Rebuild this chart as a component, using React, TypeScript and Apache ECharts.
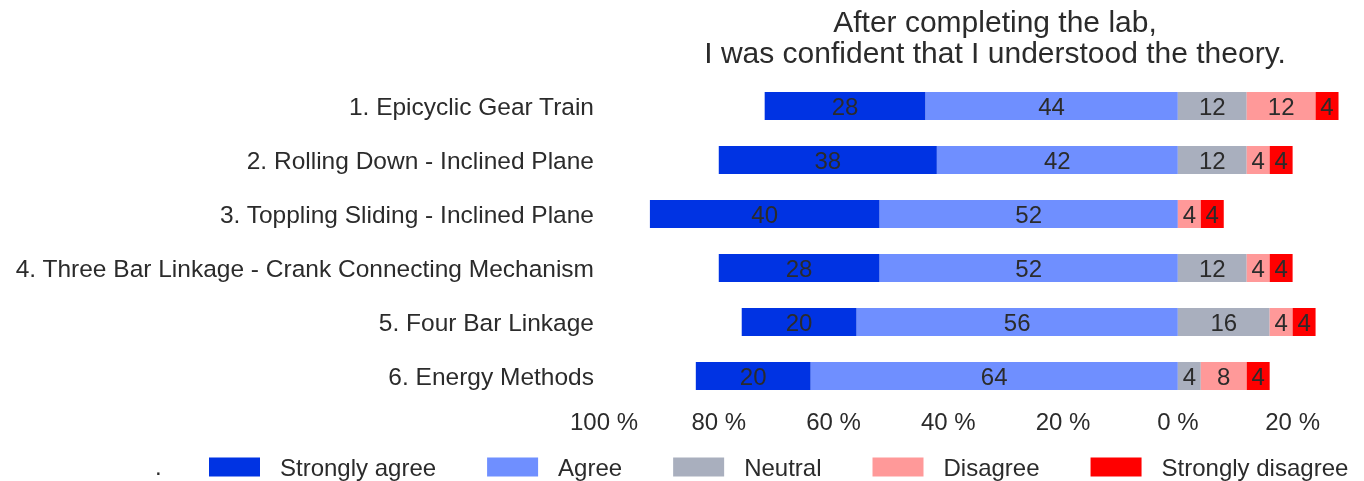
import React, { useEffect, useRef } from "react";
import * as echarts from "echarts";

const categories = [
  "1. Epicyclic Gear Train",
  "2. Rolling Down - Inclined Plane",
  "3. Toppling Sliding - Inclined Plane",
  "4. Three Bar Linkage - Crank Connecting Mechanism",
  "5. Four Bar Linkage",
  "6. Energy Methods",
];
const stronglyAgree = [28, 38, 40, 28, 20, 20];
const agree = [44, 42, 52, 52, 56, 64];
const neutral = [12, 12, 0, 12, 16, 4];
const disagree = [12, 4, 4, 4, 4, 8];
const stronglyDisagree = [4, 4, 4, 4, 4, 4];
const legendNames = ["Strongly agree", "Agree", "Neutral", "Disagree", "Strongly disagree"];
const colors = ["#0033E3", "#6F8FFF", "#A9AFBE", "#FF9999", "#FF0000"];

const FONT = "'Liberation Sans', Arial, sans-serif";
const TXT = "#2b2b2b";

export default function App() {
  const ref = useRef<HTMLDivElement>(null);
  useEffect(() => {
    if (!ref.current) return;
    const chart = echarts.init(ref.current, undefined, { renderer: "svg" });
    const label = {
      show: true,
      position: "inside",
      color: TXT,
      fontSize: 24,
      fontFamily: FONT,
      formatter: (p: any) => (p.value === 0 ? "" : String(Math.abs(p.value))),
    };
    const mk = (name: string, data: number[], color: string, neg: boolean) => ({
      name,
      type: "bar",
      stack: "total",
      barWidth: 28,
      data: neg ? data.map((v) => -v) : data,
      itemStyle: { color },
      label,
      emphasis: { disabled: true },
    });
    chart.setOption({
      animation: false,
      textStyle: { fontFamily: FONT },
      graphic: [
        {
          type: "text",
          x: 995,
          y: 6,
          style: {
            text: "After completing the lab,\nI was confident that I understood the theory.",
            align: "center",
            verticalAlign: "top",
            fontSize: 30,
            lineHeight: 31,
            fontFamily: FONT,
            fill: TXT,
          },
        },
        {
          type: "text",
          x: 155,
          y: 466,
          style: { text: ".", fontSize: 24, fontFamily: FONT, fill: TXT, verticalAlign: "middle" },
        },
      ],
      legend: {
        data: legendNames,
        left: 204,
        top: 450,
        itemWidth: 51,
        itemHeight: 19,
        itemGap: 51,
        icon: "rect",
        textStyle: { fontSize: 24, color: TXT, fontFamily: FONT, padding: [0, 0, 0, 15] },
      },
      grid: { left: 604, right: 14, top: 79, bottom: 78, containLabel: false },
      xAxis: {
        type: "value",
        min: -100,
        max: 30,
        interval: 20,
        axisLine: { show: false },
        axisTick: { show: false },
        splitLine: { show: false },
        axisLabel: {
          showMaxLabel: false,
          margin: 6,
          fontSize: 24,
          color: TXT,
          fontFamily: FONT,
          formatter: (v: number) => Math.abs(v) + " %",
        },
      },
      yAxis: {
        type: "category",
        data: categories,
        inverse: true,
        axisLine: { show: false },
        axisTick: { show: false },
        axisLabel: { margin: 10, fontSize: 24.5, color: TXT, fontFamily: FONT },
      },
      series: [
        mk("Agree", agree, colors[1], true),
        mk("Strongly agree", stronglyAgree, colors[0], true),
        mk("Neutral", neutral, colors[2], false),
        mk("Disagree", disagree, colors[3], false),
        mk("Strongly disagree", stronglyDisagree, colors[4], false),
      ],
    });
    return () => chart.dispose();
  }, []);
  return (
    <div
      ref={ref}
      style={{ position: "fixed", left: 0, top: 0, width: 1364, height: 481 }}
    />
  );
}
